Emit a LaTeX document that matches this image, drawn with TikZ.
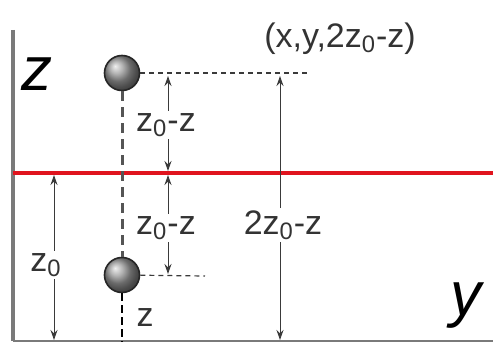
\documentclass[tikz,border=0pt]{standalone}
\usepackage{fontspec}
\setmainfont{Liberation Sans}
\usepackage{tikz}
\usetikzlibrary{arrows.meta}
\definecolor{AxisGray}{HTML}{7A7A7A}
\definecolor{MirrorRed}{HTML}{E0141E}
\definecolor{DimGray}{HTML}{3A3A3A}

\begin{document}
\begin{tikzpicture}[x=0.5pt, y=-0.5pt, every node/.style={font=\fontsize{17}{20}\selectfont, text=black!80, inner sep=1pt},
  ball/.style={circle, draw=black!85, thick, shading=ball, ball color=black!40, minimum size=17.5pt, inner sep=0pt},
  dim/.style={DimGray, line width=0.5pt, -{Stealth[length=5pt, width=3.5pt]}},
  guide/.style={DimGray, line width=0.6pt, dash pattern=on 2.5pt off 2pt}]
  \useasboundingbox (0,0) rectangle (493,342);
  % axes and mirror plane
  \coordinate (ztop) at (13,30);
  \coordinate (orig) at (13,341);
  \coordinate (yend) at (493,341);
  \coordinate (planeL) at (13,173);
  \coordinate (planeR) at (493,173);
  \draw[AxisGray, line width=2pt] (ztop) -- (orig);
  \draw[AxisGray, line width=0.8pt] (orig) -- (yend);
  \draw[MirrorRed, line width=1.6pt] (planeL) -- (planeR);
  \node[font=\fontsize{31}{34}\selectfont\itshape, text=black] (zlab) at (37,74) {z};
  \node[font=\fontsize{31}{34}\selectfont\itshape, text=black] (ylab) at (466,306) {y};
  % source and image
  \node[ball] (img) at (122,73) {};
  \node[ball] (src) at (122,275) {};
  \coordinate (srcfoot) at (122,342);
  \draw[AxisGray!70!black, line width=1.5pt, dash pattern=on 5pt off 3pt] (img) -- (src);
  \draw[black, line width=0.6pt, dash pattern=on 4pt off 2pt] (src) -- (srcfoot);
  \node (zsrc) at (145,318) {z};
  \coordinate (imgR) at (310,73);
  \coordinate (srcR) at (205,276);
  \draw[guide] (img) -- (imgR);
  \draw[guide] (src) -- (srcR);
  \node (pt) at (340,39) {(x,y,2z\textsubscript{0}-z)};
  % dimensions
  \coordinate (a1) at (168,76);
  \coordinate (a2) at (168,171);
  \coordinate (a3) at (168,175);
  \coordinate (a4) at (168,274);
  \coordinate (a5) at (280,76);
  \coordinate (a6) at (280,340);
  \coordinate (a7) at (54,175);
  \coordinate (a8) at (54,340);
  \node (d1) at (166,125) {z\textsubscript{0}-z};
  \node (d2) at (166,228) {z\textsubscript{0}-z};
  \node (d3) at (283,225) {2z\textsubscript{0}-z};
  \node (d4) at (46,265) {z\textsubscript{0}};
  \draw[dim] (d1.north -| a1) -- (a1);
  \draw[dim] (d1.south -| a2) -- (a2);
  \draw[dim] (d2.north -| a3) -- (a3);
  \draw[dim] (d2.south -| a4) -- (a4);
  \draw[dim] (d3.north -| a5) -- (a5);
  \draw[dim] (d3.south -| a6) -- (a6);
  \draw[dim] (d4.north -| a7) -- (a7);
  \draw[dim] (d4.south -| a8) -- (a8);
\end{tikzpicture}
\end{document}
